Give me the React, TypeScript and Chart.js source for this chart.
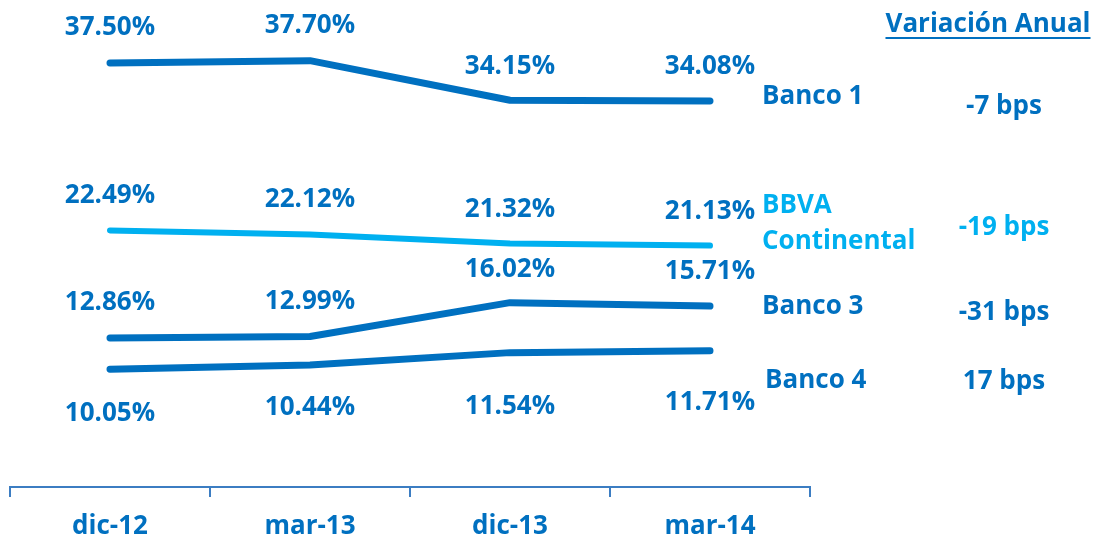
import React, { useEffect, useRef } from "react";
import { Chart, registerables } from "chart.js";

Chart.register(...registerables);

const categories = ["dic-12", "mar-13", "dic-13", "mar-14"];
const banco1 = [37.5, 37.7, 34.15, 34.08];
const bbva = [22.49, 22.12, 21.32, 21.13];
const banco3 = [12.86, 12.99, 16.02, 15.71];
const banco4 = [10.05, 10.44, 11.54, 11.71];
const seriesNames = [["Banco 1"], ["BBVA", "Continental"], ["Banco 3"], ["Banco 4"]];
const variations = ["-7 bps", "-19 bps", "-31 bps", "17 bps"];
const variationTitle = "Variación Anual";

const DARK = "#0070C0";
const LIGHT = "#00B0F0";
const AXIS = "#3C7DC2";
const FONT = "'Open Sans', 'Noto Sans', sans-serif";
const FS = 26;

// label layout (pixel offsets from each point, not data)
const labelOffsets = [
  [-35, -35, -34, -34],
  [-35, -35, -34, -34],
  [-35, -35, -33, -34],
  [44, 43, 54, 52],
];
const sideLabelY = [97, 206, 307, 381];
const sideLabelX = [762, 762, 762, 765];
const variationY = [107, 228, 313, 382];
const variationColors = [DARK, LIGHT, DARK, DARK];
const nameColors = [DARK, LIGHT, DARK, DARK];

const labelsPlugin = {
  id: "valueLabels",
  afterDatasetsDraw(chart: any) {
    const ctx = chart.ctx;
    ctx.save();
    ctx.font = `bold ${FS}px ${FONT}`;
    ctx.textAlign = "center";
    ctx.textBaseline = "middle";
    ctx.fillStyle = DARK;
    chart.data.datasets.forEach((ds: any, i: number) => {
      const meta = chart.getDatasetMeta(i);
      meta.data.forEach((pt: any, j: number) => {
        const v = ds.data[j] as number;
        ctx.fillText(v.toFixed(2) + "%", pt.x, pt.y + labelOffsets[i][j]);
      });
    });
    // series names
    ctx.textAlign = "left";
    seriesNames.forEach((lines, i) => {
      ctx.fillStyle = nameColors[i];
      lines.forEach((t, k) => {
        ctx.fillText(t, sideLabelX[i], sideLabelY[i] + k * 36);
      });
    });
    // variation column
    ctx.textAlign = "center";
    ctx.fillStyle = DARK;
    ctx.fillText(variationTitle, 988, 25);
    const w = ctx.measureText(variationTitle).width;
    ctx.strokeStyle = DARK;
    ctx.lineWidth = 2;
    ctx.beginPath();
    ctx.moveTo(988 - w / 2, 38);
    ctx.lineTo(988 + w / 2, 38);
    ctx.stroke();
    variations.forEach((t, i) => {
      ctx.fillStyle = variationColors[i];
      ctx.fillText(t, 1004, variationY[i]);
    });
    ctx.restore();
  },
};

export default function App() {
  const ref = useRef<HTMLCanvasElement>(null);
  useEffect(() => {
    if (!ref.current) return;
    const mk = (label: string, data: number[], color: string, width: number) => ({
      label,
      data,
      borderColor: color,
      backgroundColor: color,
      borderWidth: width,
      pointRadius: 0,
      tension: 0,
      borderCapStyle: "round",
      borderJoinStyle: "round",
    });
    const chart = new Chart(ref.current, {
      type: "line",
      data: {
        labels: categories,
        datasets: [
          mk("Banco 1", banco1, DARK, 7),
          mk("BBVA Continental", bbva, LIGHT, 6),
          mk("Banco 3", banco3, DARK, 7),
          mk("Banco 4", banco4, DARK, 7),
        ] as any,
      },
      options: {
        animation: false,
        responsive: true,
        maintainAspectRatio: false,
        layout: { padding: { left: 10, right: 287, top: 35, bottom: 0 } },
        plugins: { legend: { display: false }, tooltip: { enabled: false } },
        scales: {
          x: {
            offset: true,
            grid: {
              display: true,
              offset: true,
              drawOnChartArea: false,
              drawTicks: true,
              tickLength: 10,
              color: AXIS,
              lineWidth: 2,
            },
            border: { display: true, color: AXIS, width: 2 },
            ticks: {
              color: DARK,
              font: { family: FONT, size: FS, weight: "bold" },
              padding: 14,
            },
            afterFit: (s: any) => {
              s.height = 48;
            },
          },
          y: { display: false, min: -0.5, max: 40 },
        },
      } as any,
      plugins: [labelsPlugin],
    });
    return () => chart.destroy();
  }, []);
  return (
    <div style={{ position: "fixed", left: 0, top: 0, width: 1097, height: 535, background: "#fff" }}>
      <canvas ref={ref} />
    </div>
  );
}
